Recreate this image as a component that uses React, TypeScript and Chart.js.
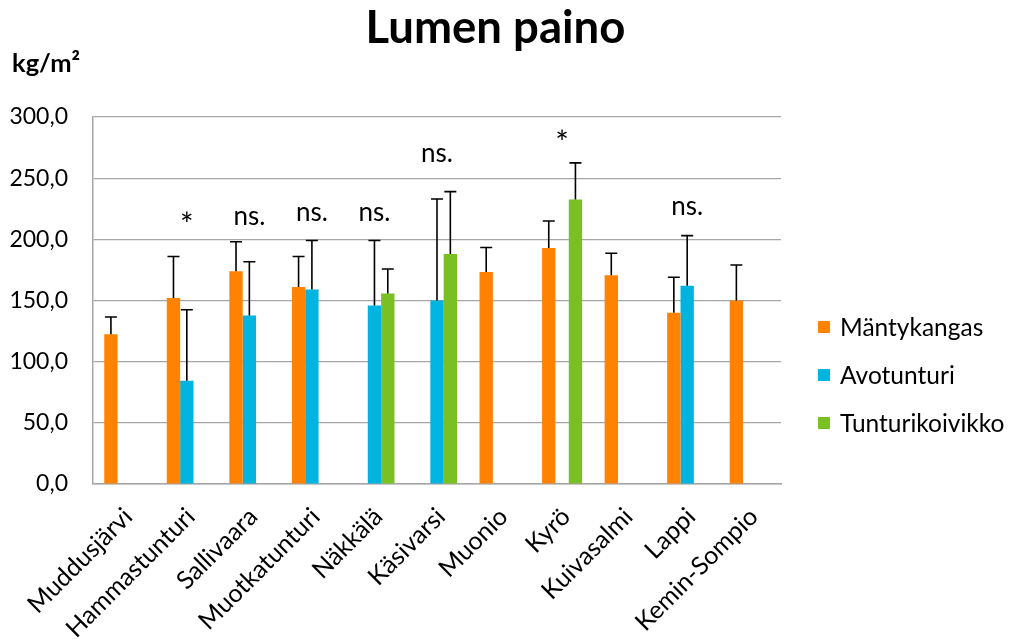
import React, { useEffect, useRef } from "react";
import { Chart, registerables } from "chart.js";

Chart.register(...registerables);

const chartTitle = "Lumen paino";
const unitLabel = "kg/m²";

const categories = [
  "Muddusjärvi",
  "Hammastunturi",
  "Sallivaara",
  "Muotkatunturi",
  "Näkkälä",
  "Käsivarsi",
  "Muonio",
  "Kyrö",
  "Kuivasalmi",
  "Lappi",
  "Kemin-Sompio",
];

const seriesNames = ["Mäntykangas", "Avotunturi", "Tunturikoivikko"];
const seriesColors = ["#FF8200", "#00B4E0", "#7ABF24"];

const mantykangas = [122.5, 152, 174, 161, null, null, 173.3, 193, 170.6, 140, 150];
const mantykangasErr = [14, 34, 24, 25, null, null, 20, 22, 18, 29, 29];

const avotunturi = [null, 84.4, 137.7, 159, 146, 150, null, null, null, 162, null];
const avotunturiErr = [null, 58, 44, 40, 53, 83, null, null, null, 41, null];

const tunturikoivikko = [null, null, null, null, 155.7, 188, null, 232.5, null, null, null];
const tunturikoivikkoErr = [null, null, null, null, 20, 51, null, 30, null, null, null];

const significance = ["", "*", "ns.", "ns.", "ns.", "ns.", "", "*", "", "ns.", ""];
const significanceLevel = [null, 202.5, 212, 215, 215, 263, null, 270, null, 220, null];

const yTicks = [0, 50, 100, 150, 200, 250, 300];

const values = [mantykangas, avotunturi, tunturikoivikko];
const errors = [mantykangasErr, avotunturiErr, tunturikoivikkoErr];

const FONT = "Lato, 'Open Sans', sans-serif";

const overlayPlugin = {
  id: "overlay",
  afterDatasetsDraw(chart: any) {
    const ctx = chart.ctx;
    const ys = chart.scales.y;
    ctx.save();
    ctx.strokeStyle = "#000";
    ctx.lineWidth = 1.6;
    errors.forEach((errArr, di) => {
      const meta = chart.getDatasetMeta(di);
      meta.data.forEach((bar: any, i: number) => {
        const v = values[di][i];
        const e = errArr[i];
        if (v == null || e == null) return;
        const x = bar.x;
        const y0 = ys.getPixelForValue(v);
        const y1 = ys.getPixelForValue(v + e);
        ctx.beginPath();
        ctx.moveTo(x, y0);
        ctx.lineTo(x, y1);
        ctx.moveTo(x - 6, y1);
        ctx.lineTo(x + 6, y1);
        ctx.stroke();
      });
    });
    ctx.restore();
  },
  afterDraw(chart: any) {
    const ctx = chart.ctx;
    const xs = chart.scales.x;
    const ys = chart.scales.y;
    const area = chart.chartArea;
    ctx.save();
    // title
    ctx.fillStyle = "#000";
    ctx.font = `bold 45.5px ${FONT}`;
    ctx.textAlign = "center";
    ctx.textBaseline = "alphabetic";
    ctx.fillText(chartTitle, 495.5, 43);
    // unit
    ctx.font = `bold 25.5px ${FONT}`;
    ctx.textAlign = "left";
    ctx.fillText(unitLabel, 12, 72);
    // significance
    ctx.textAlign = "center";
    significance.forEach((s, i) => {
      const lvl = significanceLevel[i];
      if (!s || lvl == null) return;
      ctx.font = s === "*" ? `32px ${FONT}` : `26px ${FONT}`;
      ctx.fillText(s, xs.getPixelForValue(i), ys.getPixelForValue(lvl));
    });
    // legend
    ctx.font = `24.5px ${FONT}`;
    ctx.textBaseline = "middle";
    ctx.textAlign = "left";
    const midY = (area.top + area.bottom) / 2 + 74.5;
    seriesNames.forEach((name, i) => {
      const cy = midY + (i - 1) * 48;
      ctx.fillStyle = seriesColors[i];
      ctx.fillRect(area.right + 37, cy - 6, 12, 12);
      ctx.fillStyle = "#000";
      ctx.fillText(name, area.right + 59, cy + 1);
    });
    ctx.restore();
  },
};

export default function App() {
  const ref = useRef<HTMLCanvasElement | null>(null);
  useEffect(() => {
    if (!ref.current) return;
    const chart = new Chart(ref.current, {
      type: "bar",
      data: {
        labels: categories,
        datasets: seriesNames.map((name, i) => ({
          label: name,
          data: values[i] as any,
          backgroundColor: seriesColors[i],
          borderWidth: 0,
          categoryPercentage: 0.64,
          barPercentage: 1,
        })),
      },
      options: {
        responsive: false,
        animation: false,
        layout: { padding: { top: 117, right: 228, left: 0, bottom: 0 } },
        plugins: {
          legend: { display: false },
          title: { display: false },
          tooltip: { enabled: false },
        },
        scales: {
          x: {
            grid: { display: false },
            border: { display: true, color: "#a6a6a6", width: 1.5 },
            ticks: {
              autoSkip: false,
              maxRotation: 45,
              minRotation: 45,
              padding: 10,
              labelOffset: 4,
              color: "#000",
              font: { family: FONT, size: 25 },
            },
            afterFit: (scale: any) => {
              scale.height = 155;
            },
          },
          y: {
            min: 0,
            max: 300,
            grid: { color: "#a6a6a6", lineWidth: 1.2, drawTicks: false },
            border: { display: true, color: "#a6a6a6", width: 1.5 },
            afterBuildTicks: (scale: any) => {
              scale.ticks = yTicks.map((v) => ({ value: v }));
            },
            ticks: {
              padding: 25,
              color: "#000",
              font: { family: FONT, size: 23 },
              callback: (v: any) => Number(v).toFixed(1).replace(".", ","),
            },
            afterFit: (scale: any) => {
              scale.width = 93;
            },
          },
        },
      },
      plugins: [overlayPlugin],
    });
    return () => chart.destroy();
  }, []);
  return (
    <div style={{ position: "fixed", left: 0, top: 0, width: 1009, height: 639, background: "#fff" }}>
      <canvas ref={ref} width={1009} height={639} />
    </div>
  );
}
